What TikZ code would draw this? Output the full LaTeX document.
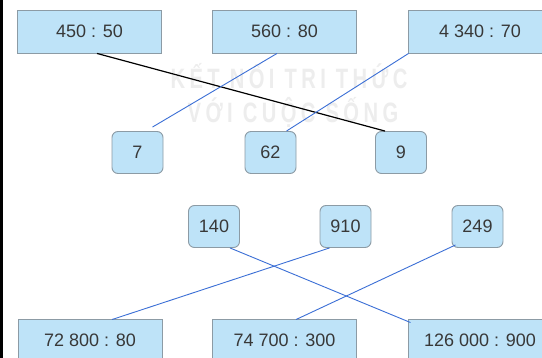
\documentclass[tikz,border=0pt]{standalone}
\usepackage{fontspec}
\setmainfont{Liberation Sans}
\newfontfamily\wmfont[LetterSpace=22]{Liberation Sans}
\usetikzlibrary{calc}
\definecolor{boxfill}{HTML}{BEE3F8}
\definecolor{boxline}{HTML}{8C9BA5}
\definecolor{txt}{HTML}{383838}
\definecolor{link}{HTML}{3B6FD6}
\definecolor{wm}{HTML}{EDEDED}
\begin{document}
\begin{tikzpicture}[x=1pt,y=-1pt,
  wide/.style={draw=boxline, fill=boxfill, line width=0.9pt, minimum width=144pt,
    minimum height=43pt, inner sep=0pt, text=txt, font=\fontsize{18}{21}\selectfont},
  small/.style={wide, minimum width=51pt, minimum height=42pt, rounded corners=6pt},
  wmark/.style={text=wm, inner sep=0pt, xscale=0.72, font=\wmfont\bfseries\fontsize{28}{30}\selectfont},
  bluelink/.style={draw=link, line width=0.9pt},
  blacklink/.style={draw=black, line width=1.2pt}]
\useasboundingbox (0,0) rectangle (542,358);
\clip (0,0) rectangle (542,358);
\fill[white] (0,0) rectangle (542,358);
\fill[black] (0,0) rectangle (3,358);
% watermark
\node[wmark] (wm1) at (289,76) {KẾT NỐI TRI THỨC};
\node[wmark] (wm2) at (293,112) {VỚI CUỘC SỐNG};
% top boxes
\node[wide] (b1) at (89.5,31.5) {450 : 50};
\node[wide] (b2) at (284.5,31.5) {560 : 80};
\node[wide] (b3) at (480,31.5) {4 340 : 70};
% small boxes row 1
\node[small] (seven) at (137.5,152.5) {7};
\node[small] (sixtytwo) at (270.5,152.5) {62};
\node[small] (nine) at (401,152.5) {9};
% small boxes row 2
\node[small] (n140) at (214,226.5) {140};
\node[small] (n910) at (345.5,226.5) {910};
\node[small] (n249) at (477.5,226.5) {249};
% bottom boxes
\node[wide] (c1) at (90,340.5) {72 800 : 80};
\node[wide] (c2) at (284.5,340.5) {74 700 : 300};
\node[wide] (c3) at (480,340.5) {126 000 : 900};
% connectors
\draw[blacklink] ($(b1.south)+(7.5,0)$) -- ($(nine.north)+(-16,0)$);
\draw[bluelink] ($(b2.south)+(-7.5,0)$) -- ($(seven.north)+(15,-4)$);
\draw[bluelink] ($(b3.south west)+(1,0)$) -- ($(sixtytwo.north)+(16,0)$);
\draw[bluelink] ($(n910.south)+(-16,0)$) -- ($(c1.north)+(22,1)$);
\draw[bluelink] ($(n249.south west)+(4,-3)$) -- ($(c2.north)+(11.5,1)$);
\draw[bluelink] ($(n140.south)+(16,0)$) -- ($(c3.north west)+(3,4)$);
\end{tikzpicture}
\end{document}
